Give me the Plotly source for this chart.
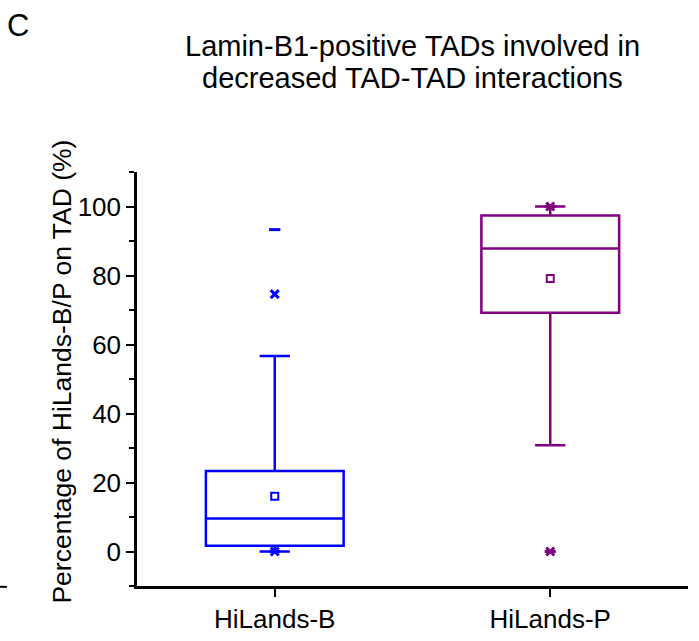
import plotly.graph_objects as go

# ---- data ----
categories = ["HiLands-B", "HiLands-P"]
colors = ["#0000FF", "#800080"]
q1 = [1.7, 69.2]
median = [9.6, 87.8]
q3 = [23.3, 97.4]
whisker_low = [0.0, 30.8]
whisker_high = [56.7, 100.0]
mean = [16.0, 79.1]
pct1 = [0.0, 0.0]      # 1% markers (x)
pct99 = [74.6, 100.0]  # 99% markers (x)
minimum = [0.0, 0.0]
maximum = [93.3, 100.0]

title_lines = ["Lamin-B1-positive TADs involved in", "decreased TAD-TAD interactions"]
y_title = "Percentage of HiLands-B/P on TAD (%)"
y_ticks = [0, 20, 40, 60, 80, 100]

FONT = "Liberation Sans, Arial, sans-serif"

fig = go.Figure()
for i, cat in enumerate(categories):
    c = colors[i]
    fig.add_trace(go.Box(
        x=[cat], q1=[q1[i]], median=[median[i]], q3=[q3[i]],
        lowerfence=[whisker_low[i]], upperfence=[whisker_high[i]],
        boxpoints=False, width=0.5, whiskerwidth=0.22,
        line=dict(color=c, width=2.5), fillcolor="rgba(0,0,0,0)",
        showlegend=False, hoverinfo="skip",
    ))
    # mean
    fig.add_trace(go.Scatter(
        x=[cat], y=[mean[i]], mode="markers", showlegend=False,
        marker=dict(symbol="square-open", size=7, color=c, line=dict(width=2, color=c)),
    ))
    # 1% / 99%
    fig.add_trace(go.Scatter(
        x=[cat, cat], y=[pct1[i], pct99[i]], mode="markers", showlegend=False,
        marker=dict(symbol="x-thin-open", size=8, color=c, line=dict(width=3, color=c)),
    ))
    # min / max
    fig.add_trace(go.Scatter(
        x=[cat, cat], y=[minimum[i], maximum[i]], mode="markers", showlegend=False,
        marker=dict(symbol="line-ew-open", size=8, color=c, line=dict(width=3, color=c)),
    ))

annotations = [
    dict(text=title_lines[0], xref="paper", yref="paper", x=0.5, y=1.3043,
         xanchor="center", yanchor="middle", showarrow=False,
         font=dict(family=FONT, size=29, color="black")),
    dict(text=title_lines[1], xref="paper", yref="paper", x=0.5, y=1.2271,
         xanchor="center", yanchor="middle", showarrow=False,
         font=dict(family=FONT, size=29, color="black")),
    dict(text=y_title, xref="paper", yref="paper", x=-0.1361, y=0.518,
         xanchor="center", yanchor="middle", textangle=-90, showarrow=False,
         font=dict(family=FONT, size=26.5, color="black")),
    dict(text="C", xref="paper", yref="paper", x=-0.2395, y=1.0,
         yshift=166, xanchor="left", yanchor="top", showarrow=False,
         font=dict(family=FONT, size=31, color="black")),
]

fig.update_layout(
    width=699, height=641,
    margin=dict(l=137, r=11, t=172, b=55, autoexpand=False),
    plot_bgcolor="white", paper_bgcolor="white",
    font=dict(family=FONT, size=26, color="black"),
    xaxis=dict(
        type="category", range=[-0.5, 1.5], automargin=False,
        showline=True, linecolor="black", linewidth=2.5,
        ticks="outside", ticklen=8, tickwidth=2, tickcolor="black",
        showgrid=False, zeroline=False,
        tickfont=dict(family=FONT, size=26),
    ),
    yaxis=dict(
        range=[-10, 110], tickvals=y_ticks, automargin=False,
        showline=True, linecolor="black", linewidth=2.5,
        ticks="outside", ticklen=8, tickwidth=2, tickcolor="black",
        minor=dict(dtick=10, tick0=0, ticks="outside", ticklen=5, tickwidth=2, tickcolor="black"),
        showgrid=False, zeroline=False,
        tickfont=dict(family=FONT, size=26),
    ),
    annotations=annotations,
    shapes=[dict(type="line", xref="paper", yref="paper", x0=-0.249, x1=-0.236,
                 y0=-0.002, y1=-0.002, line=dict(color="black", width=2))],
)

fig.write_html("out.html")
